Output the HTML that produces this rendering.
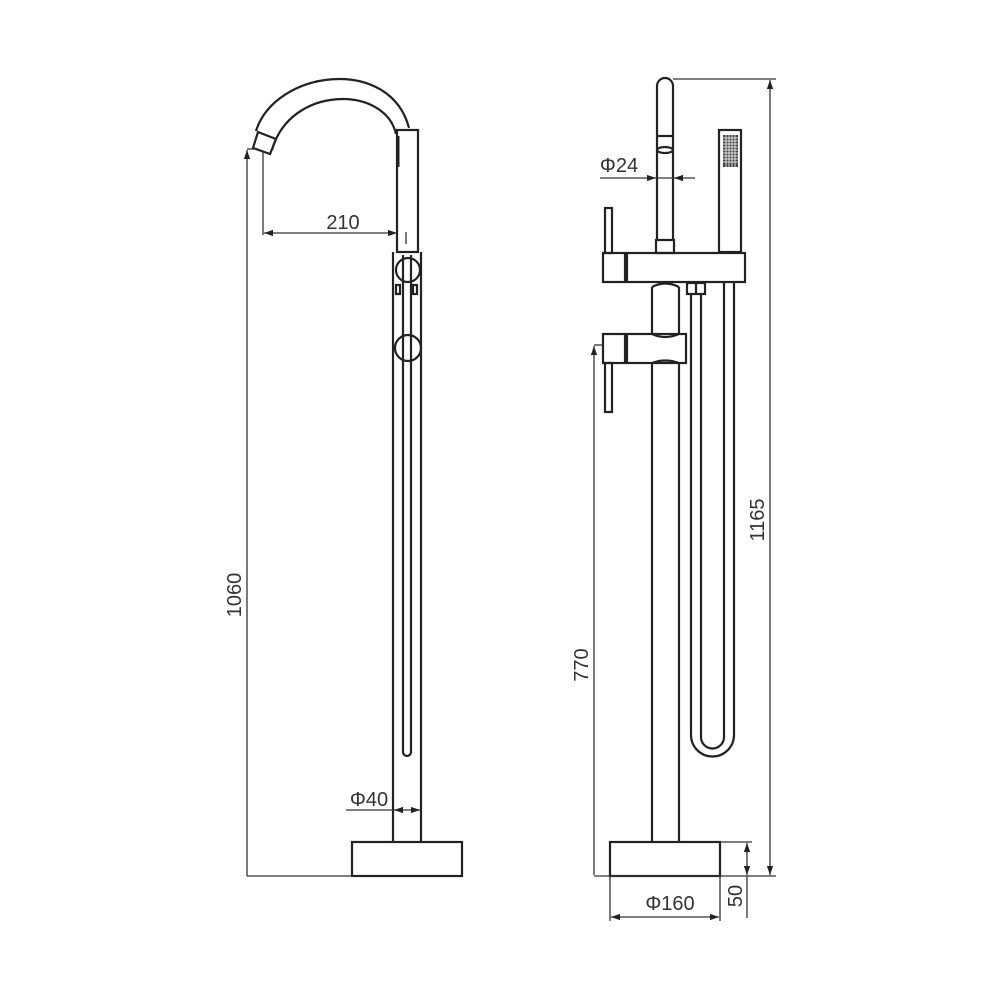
<!DOCTYPE html>
<html><head><meta charset="utf-8"><style>
html,body{margin:0;padding:0;background:#fff;}
svg{display:block;}
text{font-family:"Liberation Sans",sans-serif;fill:#333;}
</style></head><body>
<svg width="1000" height="1000" viewBox="0 0 1000 1000" xmlns="http://www.w3.org/2000/svg">
<defs>
<marker id="a" viewBox="0 0 10 10" refX="10" refY="5" markerWidth="9" markerHeight="9" markerUnits="userSpaceOnUse" orient="auto-start-reverse"><path d="M0,1.5 L10,5 L0,8.5 z" fill="#222"/></marker>
</defs>
<g fill="none" stroke="#222" stroke-width="2.2">
<path d="M256,131 C275,70 390,55 409,128"/>
<path d="M272,150 C290,85 385,85 396,134"/>
<path d="M258,132 L276,139 L270,154 L253,148 Z"/>
<rect x="397" y="130" width="21" height="122"/>
<line x1="398" y1="136" x2="398" y2="167" stroke-width="3"/>
<line x1="393" y1="252" x2="393" y2="842"/>
<line x1="421" y1="252" x2="421" y2="842"/>
<path d="M403,255 L403,752 A4,4 0 0 0 411,752 L411,255"/>
<circle cx="408" cy="270" r="12" fill="none"/>
<circle cx="408" cy="348" r="13"/>
<rect x="396" y="285" width="4" height="9"/>
<rect x="413" y="285" width="4" height="9"/>
<rect x="352" y="842" width="110" height="34"/>
</g>
<g fill="none" stroke="#333" stroke-width="1.3">
<line x1="247" y1="150" x2="247" y2="876" marker-start="url(#a)"/>
<line x1="247" y1="149" x2="256" y2="149"/>
<line x1="247" y1="876" x2="352" y2="876"/>
<line x1="263" y1="152" x2="263" y2="235"/>
<line x1="264" y1="233" x2="397" y2="233" marker-start="url(#a)" marker-end="url(#a)"/>
<line x1="406" y1="232" x2="406" y2="244"/>
<line x1="346" y1="810" x2="393" y2="810"/>
<line x1="394" y1="810" x2="420" y2="810" marker-start="url(#a)" marker-end="url(#a)"/>
</g>
<text x="343" y="229" font-size="20" text-anchor="middle">210</text>
<text x="369" y="806" font-size="20" text-anchor="middle">Φ40</text>
<text x="0" y="0" font-size="20" text-anchor="middle" transform="translate(241,595) rotate(-90)">1060</text>

<g fill="none" stroke="#222" stroke-width="2.2">
<path d="M657,240 L657,86 A8,8 0 0 1 673,86 L673,240"/>
<line x1="657" y1="136" x2="673" y2="136"/>
<ellipse cx="665" cy="150" rx="8" ry="3"/>
<path d="M656,240 L674,240 L674,253 L656,253 Z"/>
<rect x="627" y="253" width="118" height="29"/>
<rect x="603" y="253" width="22" height="29"/>
<rect x="605" y="208" width="7" height="45"/>
<path d="M652,287 Q665,280 679,287"/>
<line x1="652" y1="287" x2="652" y2="334"/>
<line x1="679" y1="287" x2="679" y2="334"/>
<path d="M652,334 Q665,340 679,334"/>
<rect x="627" y="334" width="59" height="29"/>
<rect x="603" y="334" width="22" height="29"/>
<rect x="605" y="363" width="7" height="49"/>
<path d="M652,363 Q665,358 679,363"/>
<line x1="652" y1="363" x2="652" y2="842"/>
<line x1="679" y1="363" x2="679" y2="842"/>
<rect x="719" y="130" width="22" height="122"/>
<rect x="687" y="283" width="18" height="11"/>
<line x1="696" y1="283" x2="696" y2="294"/>
<path d="M691,294 L691,735 A21.5,21.5 0 0 0 734,735 L734,283"/>
<path d="M701,294 L701,737 A11.5,11.5 0 0 0 724,737 L724,283"/>
<rect x="610" y="842" width="110" height="34"/>
</g>
<g fill="#444"><rect x="723" y="135" width="15" height="32"/></g>
<g stroke="#fff" stroke-width="0.8">
<line x1="726" y1="135" x2="726" y2="167"/><line x1="729" y1="135" x2="729" y2="167"/><line x1="732" y1="135" x2="732" y2="167"/><line x1="735" y1="135" x2="735" y2="167"/>
<line x1="723" y1="138" x2="738" y2="138"/><line x1="723" y1="141" x2="738" y2="141"/><line x1="723" y1="144" x2="738" y2="144"/><line x1="723" y1="147" x2="738" y2="147"/><line x1="723" y1="150" x2="738" y2="150"/><line x1="723" y1="153" x2="738" y2="153"/><line x1="723" y1="156" x2="738" y2="156"/><line x1="723" y1="159" x2="738" y2="159"/><line x1="723" y1="162" x2="738" y2="162"/>
</g>
<g fill="none" stroke="#333" stroke-width="1.3">
<line x1="673" y1="79" x2="776" y2="79"/>
<line x1="770" y1="80" x2="770" y2="875" marker-start="url(#a)" marker-end="url(#a)"/>
<line x1="594" y1="876" x2="776" y2="876"/>
<line x1="594" y1="346" x2="594" y2="875" marker-start="url(#a)"/>
<line x1="594" y1="345" x2="603" y2="345"/>
<line x1="600" y1="178" x2="656" y2="178" marker-end="url(#a)"/>
<line x1="674" y1="178" x2="695" y2="178" marker-start="url(#a)"/>
<line x1="656" y1="178" x2="674" y2="178"/>
<line x1="720" y1="842" x2="752" y2="842"/>
<line x1="747" y1="843" x2="747" y2="875" marker-start="url(#a)" marker-end="url(#a)"/>
<line x1="747" y1="876" x2="747" y2="918"/>
<line x1="610" y1="876" x2="610" y2="921"/>
<line x1="720" y1="876" x2="720" y2="921"/>
<line x1="611" y1="917" x2="719" y2="917" marker-start="url(#a)" marker-end="url(#a)"/>
</g>
<text x="619" y="172" font-size="20" text-anchor="middle">Φ24</text>
<text x="670" y="910" font-size="20" text-anchor="middle">Φ160</text>
<text x="0" y="0" font-size="20" text-anchor="middle" transform="translate(764,520) rotate(-90)">1165</text>
<text x="0" y="0" font-size="20" text-anchor="middle" transform="translate(588,665) rotate(-90)">770</text>
<text x="0" y="0" font-size="20" text-anchor="middle" transform="translate(742,896) rotate(-90)">50</text>
</svg>
</body></html>
